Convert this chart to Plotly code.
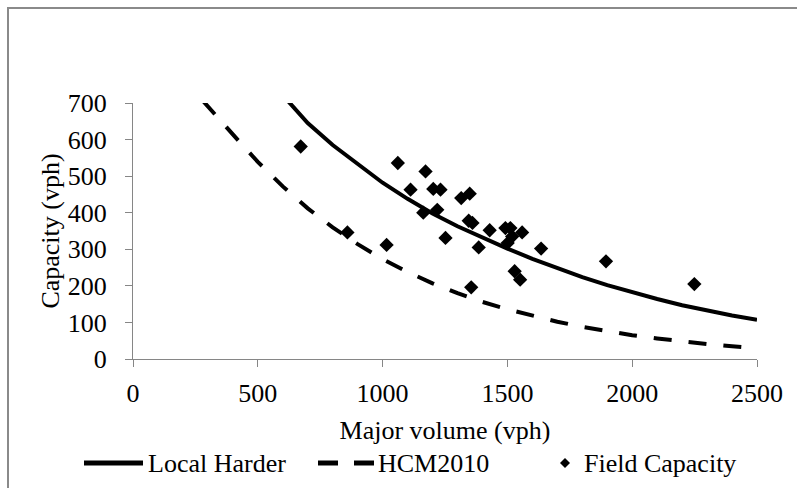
import plotly.graph_objects as go

# ---- data ----
harder_x = [615, 700, 800, 900, 1000, 1100, 1200, 1300, 1400, 1500, 1600, 1700,
            1800, 1900, 2000, 2100, 2200, 2300, 2400, 2500]
harder_y = [710, 645, 585, 532, 482, 438, 398, 363, 332, 302, 274, 248,
            224, 202, 182, 164, 147, 132, 119, 107]

hcm_x = [280, 300, 400, 500, 600, 700, 800, 900, 1000, 1100, 1200, 1300, 1400,
         1500, 1600, 1700, 1800, 1900, 2000, 2100, 2200, 2300, 2400, 2500]
hcm_y = [706, 690, 614, 539, 472, 412, 360, 314, 273, 238, 207, 180, 156,
         136, 118, 102, 88, 76, 65, 56, 48, 41, 35, 29]

field_x = [672, 859, 1016, 1061, 1112, 1163, 1172, 1203, 1219, 1232, 1252, 1315,
           1349, 1345, 1360, 1355, 1385, 1429, 1492, 1501, 1512, 1519, 1529, 1551,
           1559, 1635, 1895, 2249]
field_y = [581, 346, 312, 536, 463, 400, 513, 465, 408, 463, 331, 440,
           452, 378, 372, 196, 305, 352, 358, 317, 358, 335, 240, 217,
           346, 302, 267, 205]

x_ticks = [0, 500, 1000, 1500, 2000, 2500]
y_ticks = [0, 100, 200, 300, 400, 500, 600, 700]

series_names = ["Local Harder", "HCM2010", "Field Capacity"]
x_title = "Major volume (vph)"
y_title = "Capacity (vph)"

# ---- layout geometry ----
W, H = 797, 488
L, R, T, B = 133, 40, 103, 129
PW, PH = W - L - R, H - T - B
FONT = "Liberation Serif, Times New Roman, serif"
FS = 26
AXC = "#868686"


def px(xp):
    return (xp - L) / PW


def py(yp):
    return (H - B - yp) / PH


fig = go.Figure()
fig.add_trace(go.Scatter(x=harder_x, y=harder_y, mode="lines", name=series_names[0],
                         line=dict(color="black", width=4), showlegend=False))
fig.add_trace(go.Scatter(x=hcm_x, y=hcm_y, mode="lines", name=series_names[1],
                         line=dict(color="black", width=4, dash="18px,17px"),
                         showlegend=False))
fig.add_trace(go.Scatter(x=field_x, y=field_y, mode="markers", name=series_names[2],
                         marker=dict(symbol="diamond", size=11, color="black"),
                         cliponaxis=False, showlegend=False))

# ---- manual legend (below the x-axis title) ----
leg_y = 463
shapes = [
    # outer chart border (partially cut by the image edges)
    dict(type="rect", xref="paper", yref="paper",
         x0=px(8), x1=px(W + 10), y0=py(H + 10), y1=py(8),
         line=dict(color="#8a8a8a", width=2), fillcolor="rgba(0,0,0,0)"),
    dict(type="line", xref="paper", yref="paper",
         x0=px(84), x1=px(143), y0=py(leg_y), y1=py(leg_y),
         line=dict(color="black", width=5)),
    dict(type="line", xref="paper", yref="paper",
         x0=px(318), x1=px(338), y0=py(leg_y), y1=py(leg_y),
         line=dict(color="black", width=5)),
    dict(type="line", xref="paper", yref="paper",
         x0=px(354), x1=px(374), y0=py(leg_y), y1=py(leg_y),
         line=dict(color="black", width=5)),
    dict(type="path", xref="paper", yref="paper",
         path=f"M {px(565)} {py(leg_y - 5)} L {px(570)} {py(leg_y)} "
              f"L {px(565)} {py(leg_y + 5)} L {px(560)} {py(leg_y)} Z",
         fillcolor="black", line=dict(color="black", width=0)),
]
annotations = [
    dict(text=series_names[0], x=px(146), y=py(leg_y), xref="paper", yref="paper",
         xanchor="left", yanchor="middle", showarrow=False,
         font=dict(family=FONT, size=FS, color="black")),
    dict(text=series_names[1], x=px(376), y=py(leg_y), xref="paper", yref="paper",
         xanchor="left", yanchor="middle", showarrow=False,
         font=dict(family=FONT, size=FS, color="black")),
    dict(text=series_names[2], x=px(582), y=py(leg_y), xref="paper", yref="paper",
         xanchor="left", yanchor="middle", showarrow=False,
         font=dict(family=FONT, size=FS, color="black")),
]

fig.update_layout(
    width=W, height=H,
    margin=dict(l=L, r=R, t=T, b=B, autoexpand=False),
    paper_bgcolor="white", plot_bgcolor="white",
    font=dict(family=FONT, size=FS, color="black"),
    showlegend=False,
    shapes=shapes,
    annotations=annotations,
    xaxis=dict(range=[0, 2500], tickvals=x_ticks, ticktext=[str(v) for v in x_ticks],
               showgrid=False, zeroline=False, showline=True, linecolor=AXC, linewidth=1.3,
               ticks="outside", ticklen=7, tickcolor=AXC, tickwidth=1.3,
               ticklabelstandoff=4,
               title=dict(text=x_title, standoff=13, font=dict(family=FONT, size=FS)),
               tickfont=dict(family=FONT, size=FS), automargin=False),
    yaxis=dict(range=[0, 700], tickvals=y_ticks, ticktext=[str(v) for v in y_ticks],
               showgrid=False, zeroline=False, showline=True, linecolor=AXC, linewidth=1.3,
               ticks="outside", ticklen=7, tickcolor=AXC, tickwidth=1.3,
               ticklabelstandoff=13,
               title=dict(text=y_title, standoff=0, font=dict(family=FONT, size=FS)),
               tickfont=dict(family=FONT, size=FS), automargin=False),
)

fig.write_html("out.html")
